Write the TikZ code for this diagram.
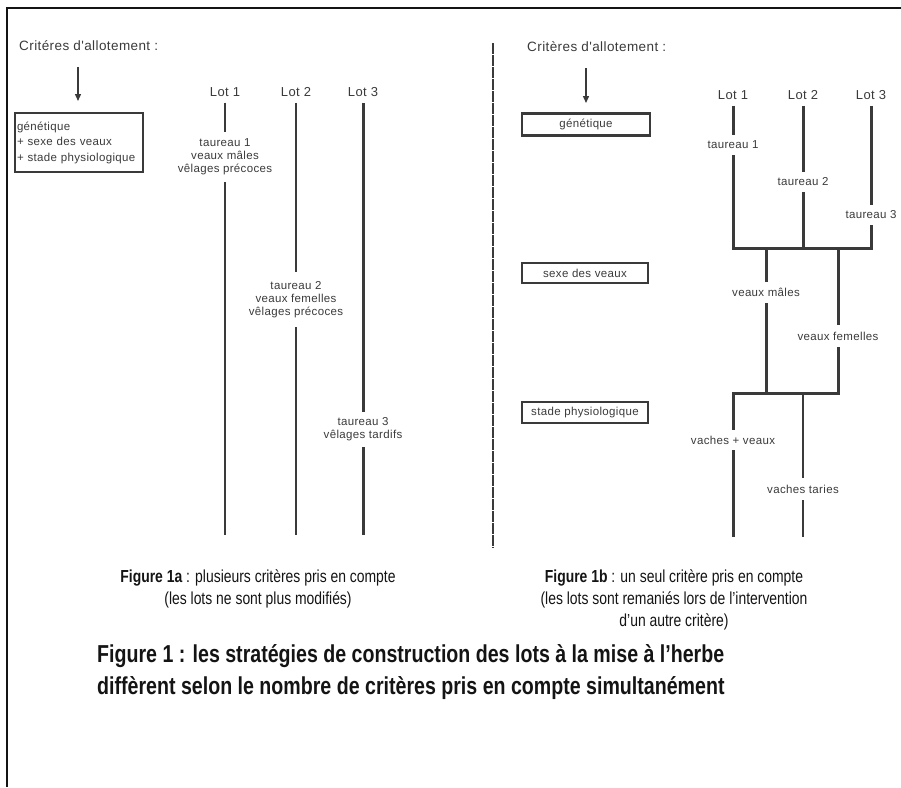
\documentclass[tikz,border=0pt]{standalone}
\usepackage{fontspec}
\setmainfont{Liberation Sans}
\newfontfamily\capfont[FakeStretch=0.8]{Liberation Sans}
\newfontfamily\diafont[LetterSpace=3]{Liberation Sans}
\usetikzlibrary{arrows.meta,positioning}
\definecolor{inkgray}{RGB}{58,58,58}
\definecolor{capink}{RGB}{20,20,20}

\begin{document}
\begin{tikzpicture}[x=1pt,y=-1pt,
  lot/.style={font=\diafont\fontsize{13}{15}\selectfont,text=inkgray,inner xsep=2pt,inner ysep=6pt},
  lbl/.style={font=\diafont\fontsize{11.5}{13}\selectfont,text=inkgray,align=center,inner sep=0pt},
  head/.style={font=\diafont\fontsize{13.5}{15}\selectfont,text=inkgray,inner sep=0pt},
  critbox/.style={draw=inkgray,line width=2.4pt,font=\diafont\fontsize{11.5}{13}\selectfont,text=inkgray,inner sep=0pt},
  thn/.style={draw=inkgray,line width=2pt},
  thk/.style={draw=inkgray,line width=3pt},
  down/.style={draw=inkgray,line width=1.4pt,-{Triangle[length=7pt,width=6pt]}},
  captext/.style={font=\capfont\fontsize{17.4}{22}\selectfont,text=capink,align=center,inner sep=0pt}]
\useasboundingbox (0,0) rectangle (901,787);

\draw[line width=2.5pt,capink] (7,787) -- (7,8) -- (901,8);
\coordinate (dv1) at (493,43);
\coordinate (dv2) at (493,548);
\draw[inkgray,line width=2.5pt,dash pattern=on 11pt off 1pt] (dv1) -- (dv2);

% figure 1a
\node[head,anchor=west] (crita) at (19,46) {Critéres d'allotement :};
\coordinate (aa1) at (78,67);
\coordinate (aa2) at (78,101);
\draw[down] (aa1) -- (aa2);
\node[critbox,minimum width=128pt,minimum height=59pt,text width=124pt,align=left,
  font=\diafont\fontsize{11.5}{15.5}\selectfont] (boxa) at (79,142.5)
  {génétique\\+ sexe des veaux\\+ stade physiologique};

\node[lot] (la1) at (225,92) {Lot 1};
\node[lot] (la2) at (296,92) {Lot 2};
\node[lot] (la3) at (363,92) {Lot 3};

\node[lbl,minimum height=50pt] (ta1) at (225,157) {taureau 1\\veaux mâles\\vêlages précoces};
\node[lbl,minimum height=55pt] (ta2) at (296,299.5) {taureau 2\\veaux femelles\\vêlages précoces};
\node[lbl,minimum height=35pt] (ta3) at (363,429.5) {taureau 3\\vêlages tardifs};

\coordinate (ea1) at (225,535);
\coordinate (ea2) at (296,535);
\coordinate (ea3) at (363,535);

\draw[thn] (la1) -- (ta1) -- (ea1);
\draw[thn] (la2) -- (ta2) -- (ea2);
\draw[thk] (la3) -- (ta3) -- (ea3);

% figure 1b
\node[head,anchor=west] (critb) at (527,47) {Critères d'allotement :};
\coordinate (ab1) at (586,68);
\coordinate (ab2) at (586,103);
\draw[down] (ab1) -- (ab2);
\node[critbox,minimum width=128pt,minimum height=22pt] (gen) at (586,124.5) {génétique};
\node[critbox,minimum width=126pt,minimum height=20pt] (sexe) at (585,273) {sexe des veaux};
\node[critbox,minimum width=126pt,minimum height=21pt] (stade) at (585,412.5) {stade physiologique};

\node[lot] (lb1) at (733,95) {Lot 1};
\node[lot] (lb2) at (803,95) {Lot 2};
\node[lot] (lb3) at (871,95) {Lot 3};

\node[lbl,minimum height=20pt] (tb1) at (733,145) {taureau 1};
\node[lbl,minimum height=20pt] (tb2) at (803,182) {taureau 2};
\node[lbl,minimum height=20pt] (tb3) at (871,215) {taureau 3};
\coordinate (bar1) at (733,248);
\coordinate (bar2) at (871,248);

\node[lbl,minimum height=21pt] (vm) at (766,292.5) {veaux mâles};
\node[lbl,minimum height=22pt] (vf) at (838,336) {veaux femelles};
\coordinate (bar3) at (733,393);
\coordinate (bar4) at (838,393);

\node[lbl,minimum height=20pt] (vv) at (733,440) {vaches + veaux};
\node[lbl,minimum height=22pt] (vt) at (803,489) {vaches taries};
\coordinate (evv) at (733,537);
\coordinate (evt) at (803,537);

\draw[thk] (lb1) -- (tb1);
\draw[thk] (lb2) -- (tb2);
\draw[thk] (lb3) -- (tb3);
\draw[thk] (tb1) -- (bar1) -- (bar2) -- (tb3);
\draw[thk] (tb2) -- (tb2 |- bar1);
\draw[thk] (vm |- bar1) -- (vm);
\draw[thk] (vf |- bar1) -- (vf);
\draw[thk] (vm) -- (vm |- bar3);
\draw[thk] (vf) -- (bar4) -- (bar3) -- (vv);
\draw[thn] (vt |- bar3) -- (vt);
\draw[thk] (vv) -- (evv);
\draw[thn] (vt) -- (evt);

% captions
\node[captext] (capa) at (258,589) {\textbf{Figure 1a} : plusieurs critères pris en compte\\(les lots ne sont plus modifiés)};
\node[captext] (capb) at (674,600) {\textbf{Figure 1b} : un seul critère pris en compte\\(les lots sont remaniés lors de l’intervention\\d’un autre critère)};
\node[captext,anchor=west,align=left,font=\capfont\bfseries\fontsize{24.5}{32}\selectfont] (title) at (97,672)
  {Figure 1 : les stratégies de construction des lots à la mise à l’herbe\\diffèrent selon le nombre de critères pris en compte simultanément};
\end{tikzpicture}
\end{document}
